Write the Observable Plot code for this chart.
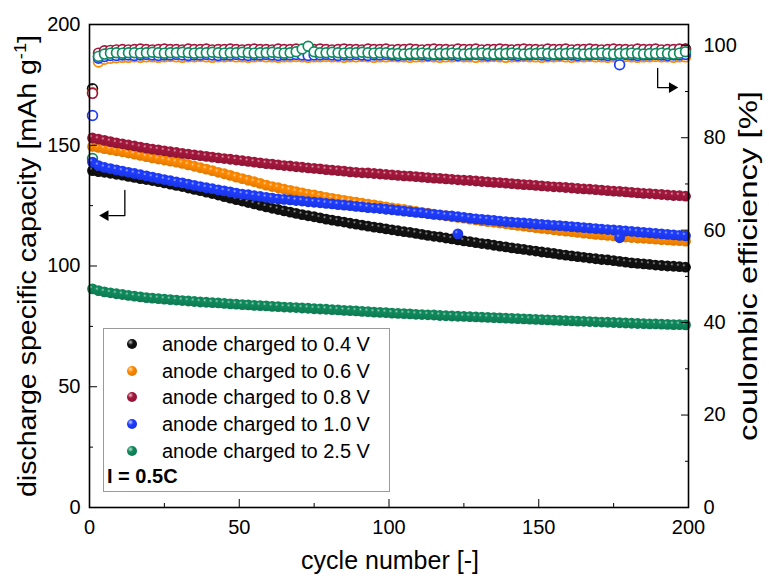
<!DOCTYPE html>
<html><head><meta charset="utf-8">
<script src="https://cdn.jsdelivr.net/npm/d3@7"></script>
<script src="https://cdn.jsdelivr.net/npm/@observablehq/plot@0.6"></script>
<style>
body{margin:0;background:#fff;}
#wrap{position:relative;width:769px;height:576px;font-family:"Liberation Sans",Arial,sans-serif;color:#000;}
#legend{position:absolute;left:103px;top:328px;width:287px;height:164px;border:1px solid #9a9a9a;background:#fff;box-sizing:border-box;}
.li{position:absolute;left:0;height:26px;line-height:26px;font-size:20px;white-space:nowrap;}
.ball{position:absolute;left:23px;top:8px;width:10px;height:10px;border-radius:50%;}
.lt{position:absolute;left:58px;top:0;}
.cur{position:absolute;left:3px;font-size:20px;font-weight:bold;white-space:nowrap;}
</style></head><body><div id="wrap"></div>
<script>
const cycles = d3.range(1, 201, 2);
const seriesNames = ["anode charged to 0.4 V","anode charged to 0.6 V","anode charged to 0.8 V","anode charged to 1.0 V","anode charged to 2.5 V"];
const seriesColors = ["#111111","#ff8a00","#a3173c","#1e3cff","#0f8a5c"];

const capBlack = [139.5,139.1,138.8,138.4,138.0,137.6,137.1,136.7,136.2,135.8,135.4,134.9,134.4,133.9,133.4,132.9,132.3,131.7,131.2,130.6,130.0,129.4,128.7,128.1,127.5,126.9,126.3,125.7,125.1,124.5,123.9,123.4,122.8,122.3,121.8,121.3,120.8,120.4,119.9,119.4,119.0,118.6,118.2,117.7,117.3,116.9,116.5,116.1,115.8,115.4,115.0,114.6,114.2,113.9,113.5,113.1,112.7,112.3,112.0,111.6,111.2,110.8,110.4,110.1,109.7,109.3,109.0,108.6,108.2,107.9,107.5,107.2,106.9,106.5,106.2,105.8,105.5,105.2,104.8,104.5,104.2,103.9,103.6,103.3,103.0,102.7,102.5,102.2,101.9,101.6,101.3,101.1,100.9,100.7,100.4,100.2,100.0,99.9,99.7,99.5];
const capOrange = [149.5,149.1,148.6,148.2,147.7,147.3,146.8,146.3,145.8,145.3,144.8,144.3,143.9,143.4,143.0,142.5,141.9,141.3,140.7,140.1,139.5,138.8,138.2,137.5,136.8,136.2,135.5,134.9,134.2,133.5,132.9,132.4,131.8,131.3,130.8,130.3,129.8,129.4,128.9,128.4,128.0,127.6,127.2,126.8,126.4,126.0,125.6,125.3,124.9,124.5,124.1,123.7,123.4,123.0,122.6,122.2,121.9,121.5,121.1,120.8,120.4,120.1,119.8,119.4,119.1,118.7,118.4,118.1,117.8,117.5,117.1,116.8,116.5,116.2,115.9,115.6,115.3,115.0,114.7,114.4,114.2,113.9,113.6,113.4,113.1,112.9,112.7,112.5,112.2,112.0,111.8,111.6,111.5,111.3,111.1,110.9,110.8,110.6,110.5,110.3];
const capRed = [153.0,152.5,152.0,151.5,151.0,150.6,150.1,149.7,149.2,148.8,148.4,148.1,147.7,147.3,147.0,146.6,146.3,146.0,145.7,145.4,145.1,144.8,144.5,144.2,143.9,143.6,143.3,143.0,142.7,142.4,142.2,141.9,141.6,141.4,141.1,140.9,140.6,140.4,140.2,139.9,139.7,139.5,139.3,139.0,138.8,138.6,138.5,138.3,138.1,137.9,137.7,137.5,137.3,137.2,137.0,136.8,136.6,136.4,136.3,136.1,135.9,135.7,135.5,135.4,135.2,135.0,134.8,134.6,134.5,134.3,134.1,133.9,133.7,133.6,133.4,133.2,133.0,132.8,132.7,132.5,132.3,132.1,131.9,131.8,131.6,131.4,131.2,131.0,130.9,130.7,130.5,130.3,130.1,130.0,129.8,129.6,129.4,129.2,129.1,128.9];
const capBlue = [143.0,141.6,140.8,140.3,139.8,139.3,138.8,138.3,137.8,137.3,136.8,136.3,135.8,135.3,134.8,134.4,133.9,133.4,132.9,132.4,132.0,131.5,131.1,130.7,130.2,129.8,129.5,129.1,128.8,128.4,128.1,127.8,127.6,127.4,127.1,126.9,126.6,126.4,126.2,125.9,125.7,125.4,125.2,125.0,124.7,124.5,124.2,124.0,123.8,123.5,123.3,123.0,122.7,122.5,122.2,122.0,121.7,121.4,121.2,120.9,120.7,120.4,120.1,119.8,119.5,119.3,119.1,118.9,118.6,118.4,118.2,118.0,117.8,117.6,117.4,117.2,117.0,116.8,116.7,116.5,116.3,116.1,115.9,115.7,115.5,115.3,115.1,114.9,114.7,114.5,114.3,114.1,113.9,113.7,113.5,113.3,113.1,112.9,112.7,112.5];
const capGreen = [90.5,89.8,89.3,88.9,88.5,88.2,87.8,87.5,87.2,86.9,86.7,86.5,86.3,86.1,85.9,85.7,85.5,85.3,85.1,85.0,84.8,84.7,84.5,84.3,84.2,84.0,83.9,83.7,83.6,83.5,83.3,83.2,83.0,82.9,82.8,82.6,82.5,82.3,82.2,82.1,81.9,81.8,81.6,81.5,81.4,81.2,81.1,80.9,80.8,80.7,80.5,80.4,80.3,80.2,80.0,79.9,79.8,79.7,79.5,79.4,79.3,79.2,79.1,79.0,78.9,78.8,78.7,78.6,78.5,78.4,78.3,78.2,78.1,78.0,77.9,77.8,77.7,77.6,77.5,77.4,77.3,77.2,77.1,77.0,76.9,76.8,76.7,76.6,76.5,76.4,76.3,76.2,76.1,76.0,76.0,75.9,75.8,75.7,75.7,75.6];
const blueDropCycles = [123, 177];
const blueDropCap = [113.3, 111.7];

const ceBlack = [90.6,97.6,98.0,98.1,98.2,98.2,98.3,98.2,98.3,98.3,98.4,98.3,98.3,98.4,98.3,98.4,98.4,98.3,98.4,98.4,98.3,98.4,98.4,98.5,98.4,98.4,98.3,98.4,98.4,98.5,98.4,98.4,98.3,98.4,98.4,98.4,98.5,98.4,98.4,98.3,98.4,98.4,98.4,98.5,98.4,98.4,98.4,98.3,98.4,98.4,98.4,98.5,98.4,98.4,98.4,98.3,98.4,98.4,98.5,98.4,98.4,98.4,98.3,98.4,98.4,98.4,98.5,98.4,98.4,98.4,98.3,98.4,98.4,98.4,98.5,98.4,98.4,98.4,98.3,98.4,98.4,98.5,98.4,98.4,98.4,98.3,98.4,98.4,98.4,98.5,98.4,98.4,98.4,98.3,98.4,98.4,98.5,98.4,98.6,99.2];
const ceOrange = [89.8,96.4,97.0,97.2,97.3,97.4,97.4,97.5,97.4,97.5,97.5,97.4,97.5,97.6,97.5,97.4,97.5,97.5,97.6,97.5,97.4,97.5,97.5,97.6,97.5,97.5,97.4,97.5,97.6,97.5,97.5,97.4,97.5,97.5,97.6,97.5,97.4,97.5,97.5,97.6,97.5,97.5,97.4,97.5,97.5,97.6,97.5,97.4,97.5,97.5,97.6,97.5,97.5,97.4,97.5,97.5,97.6,97.5,97.4,97.5,97.5,97.6,97.5,97.5,97.4,97.5,97.5,97.6,97.5,97.4,97.5,97.5,97.6,97.5,97.5,97.4,97.5,97.5,97.6,97.5,97.4,97.5,97.5,97.6,97.5,97.5,97.4,97.5,97.5,97.6,97.5,97.4,97.5,97.5,97.6,97.5,97.5,97.4,97.5,97.5];
const ceRed = [89.6,98.3,98.8,98.9,99.0,99.1,99.0,99.1,99.2,99.1,99.0,99.1,99.2,99.1,99.1,99.0,99.2,99.1,99.1,99.2,99.0,99.1,99.1,99.2,99.1,99.0,99.1,99.2,99.1,99.1,99.0,99.2,99.1,99.1,99.2,99.0,99.1,99.1,99.2,99.1,99.0,99.1,99.2,99.1,99.1,99.0,99.2,99.1,99.1,99.2,99.0,99.1,99.1,99.2,99.1,99.0,99.1,99.2,99.1,99.1,99.0,99.2,99.1,99.1,99.2,99.0,99.1,99.1,99.2,99.1,99.0,99.1,99.2,99.1,99.1,99.0,99.2,99.1,99.1,99.2,99.0,99.1,99.1,99.2,99.1,99.0,99.1,99.2,99.1,99.1,99.0,99.2,99.1,99.1,99.2,99.0,99.1,99.1,99.2,99.1];
const ceBlue = [84.8,97.2,97.6,97.8,97.8,97.9,97.9,97.8,97.9,98.0,97.9,97.8,97.9,97.9,98.0,97.9,97.8,97.9,97.9,98.0,97.9,97.8,97.9,97.9,98.0,97.9,97.8,97.9,97.9,98.0,97.9,97.8,97.9,97.9,98.0,97.9,97.8,97.9,97.9,98.0,97.9,97.8,97.9,97.9,98.0,97.9,97.8,97.9,97.9,98.0,97.9,97.8,97.9,97.9,98.0,97.9,97.8,97.9,97.9,98.0,97.9,97.8,97.9,97.9,98.0,97.9,97.8,97.9,97.9,98.0,97.9,97.8,97.9,97.9,98.0,97.9,97.8,97.9,97.9,98.0,97.9,97.8,97.9,97.9,98.0,97.9,97.8,97.9,95.8,98.0,97.9,97.8,97.9,97.9,98.0,97.9,97.8,97.9,97.9,98.0];
const ceGreen = [75.5,97.6,98.1,98.3,98.4,98.3,98.4,98.4,98.3,98.4,98.5,98.4,98.3,98.4,98.4,98.5,98.4,98.3,98.4,98.4,98.5,98.4,98.3,98.4,98.4,98.5,98.4,98.3,98.4,98.4,98.5,98.4,98.3,98.4,98.6,99.2,99.8,98.6,98.4,98.4,98.5,98.4,98.3,98.4,98.4,98.5,98.4,98.3,98.4,98.4,98.2,98.2,98.1,98.2,98.2,98.3,98.2,98.1,98.2,98.2,98.3,98.2,98.1,98.2,98.2,98.3,98.2,98.1,98.2,98.2,98.3,98.2,98.1,98.2,98.2,98.3,98.2,98.1,98.2,98.2,98.3,98.2,98.1,98.2,98.2,98.3,98.2,98.1,98.2,98.2,98.3,98.2,98.1,98.2,98.2,98.3,98.2,98.1,98.3,98.6];

const xMajor = [0,50,100,150,200], xMinor = [25,75,125,175];
const yMajor = [0,50,100,150,200], yMinor = [25,75,125,175];
const ceMajor = [0,20,40,60,80,100], ceMinor = [10,30,50,70,90];
const capMax = 200, ceMax = 104.5;
const toCap = v => v * capMax / ceMax;

// annotation arrows (data units: cycle, capacity)
const arrowLeftLine = [{x:11.8,y:131.3},{x:11.8,y:120.9},{x:6.5,y:120.9}];
const arrowLeftHead = [{x:5.3,y:120.9}];
const arrowRightLine = [{x:189.7,y:181.8},{x:189.7,y:173.9},{x:193.5,y:173.9}];
const arrowRightHead = [{x:194.5,y:173.9}];

const capSeries = [capBlack, capOrange, capRed, capBlue, capGreen];
const ceSeries = [ceBlack, ceOrange, ceRed, ceBlue, ceGreen];

const marks = [];
ceSeries.forEach((vals, si) => {
  const data = cycles.map((c, i) => ({cycle: c, ce: vals[i]}));
  marks.push(Plot.dot(data, {x: "cycle", y: d => toCap(d.ce), r: 4.9, stroke: seriesColors[si], strokeWidth: 1.7, fill: "white"}));
});
capSeries.forEach((vals, si) => {
  const data = cycles.map((c, i) => ({cycle: c, cap: vals[i]}));
  if (si === 3) blueDropCycles.forEach((c, j) => data.push({cycle: c, cap: blueDropCap[j]}));
  marks.push(Plot.dot(data, {x: "cycle", y: "cap", r: 5.4, fill: `url(#ball${si})`, stroke: null}));
});
marks.push(
  Plot.line(arrowLeftLine, {x: "x", y: "y", stroke: "black", strokeWidth: 1.3}),
  Plot.dot(arrowLeftHead, {x: "x", y: "y", symbol: "triangle", rotate: -90, r: 4, fill: "black", stroke: null}),
  Plot.line(arrowRightLine, {x: "x", y: "y", stroke: "black", strokeWidth: 1.3}),
  Plot.dot(arrowRightHead, {x: "x", y: "y", symbol: "triangle", rotate: 90, r: 4, fill: "black", stroke: null}),
  Plot.axisX(xMajor, {tickSize: -8, tickPadding: 20, label: null, tickFormat: d => d}),
  Plot.axisX(xMinor, {tickSize: -4, tickPadding: 0, label: null, tickFormat: () => ""}),
  Plot.axisY(yMajor, {tickSize: -8, tickPadding: 17, label: null, tickFormat: d => d}),
  Plot.axisY(yMinor, {tickSize: -4, tickPadding: 0, label: null, tickFormat: () => ""}),
  Plot.axisY(ceMajor.map(toCap), {anchor: "right", tickSize: -8, tickPadding: 23, label: null, tickFormat: d => Math.round(d * ceMax / capMax)}),
  Plot.axisY(ceMinor.map(toCap), {anchor: "right", tickSize: -4, tickPadding: 0, label: null, tickFormat: () => ""}),
  Plot.frame({stroke: "black", strokeWidth: 1.6})
);

const chart = Plot.plot({
  width: 769, height: 576,
  marginLeft: 89, marginRight: 81, marginTop: 24, marginBottom: 69,
  x: {domain: [0, 200], axis: null},
  y: {domain: [0, capMax], axis: null},
  style: {fontFamily: "'Liberation Sans', Arial, sans-serif", fontSize: "20px", background: "white", color: "black", overflow: "visible"},
  marks
});

const svg = d3.select(chart);
const defs = svg.insert("defs", ":first-child");
seriesColors.forEach((c, i) => {
  const g = defs.append("radialGradient").attr("id", `ball${i}`).attr("cx", "35%").attr("cy", "32%").attr("r", "70%");
  g.append("stop").attr("offset", "0%").attr("stop-color", i === 0 ? "#999999" : d3.interpolateRgb(c, "#ffffff")(0.6));
  g.append("stop").attr("offset", "22%").attr("stop-color", c);
  g.append("stop").attr("offset", "100%").attr("stop-color", d3.color(c).darker(0.4).formatHex());
});

const tf = "'Liberation Sans', Arial, sans-serif";
const lt = svg.append("text").attr("transform", "translate(27,266) rotate(-90)")
  .attr("text-anchor", "middle").attr("dy", "0.35em").attr("font-family", tf).attr("font-size", 25)
  .attr("textLength", 462).attr("lengthAdjust", "spacingAndGlyphs").attr("fill", "black");
lt.append("tspan").text("discharge specific capacity [mAh g");
lt.append("tspan").attr("dy", -10).attr("font-size", 16).text("-1");
lt.append("tspan").attr("dy", 10).text("]");
svg.append("text").attr("transform", "translate(748,266) rotate(-90)")
  .attr("text-anchor", "middle").attr("dy", "0.35em").attr("font-family", tf).attr("font-size", 25)
  .attr("textLength", 350).attr("lengthAdjust", "spacingAndGlyphs").attr("fill", "black")
  .text("coulombic efficiency [%]");
svg.append("text").attr("x", 390).attr("y", 569).attr("text-anchor", "middle")
  .attr("font-family", tf).attr("font-size", 25).attr("fill", "black").text("cycle number [-]");

const wrap = document.getElementById("wrap");
wrap.appendChild(chart);

const legend = document.createElement("div");
legend.id = "legend";
seriesNames.forEach((name, i) => {
  const item = document.createElement("div");
  item.className = "li";
  item.style.top = (2 + i * 26.7) + "px";
  const ball = document.createElement("span");
  ball.className = "ball";
  const c = seriesColors[i];
  const hi = i === 0 ? "#bbbbbb" : d3.interpolateRgb(c, "#ffffff")(0.75);
  ball.style.background = `radial-gradient(circle at 35% 32%, ${hi} 0%, ${c} 30%, ${d3.color(c).darker(0.6).formatHex()} 100%)`;
  const t = document.createElement("span");
  t.className = "lt";
  t.textContent = name;
  item.appendChild(ball); item.appendChild(t);
  legend.appendChild(item);
});
const cur = document.createElement("div");
cur.className = "cur";
cur.style.top = "136px";
cur.textContent = "I = 0.5C";
legend.appendChild(cur);
wrap.appendChild(legend);
</script></body></html>
